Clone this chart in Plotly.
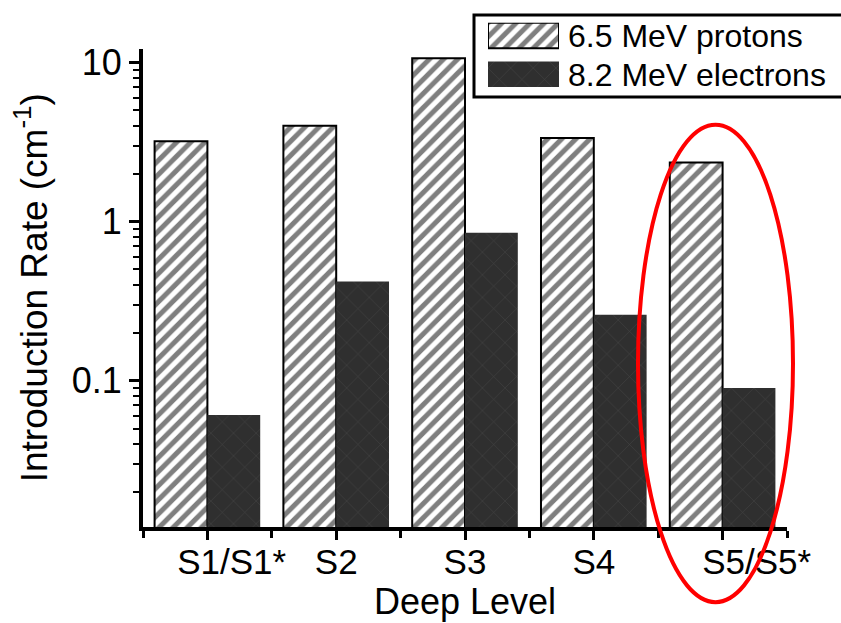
import plotly.graph_objects as go

# ---- data ----
levels = ["S1/S1*", "S2", "S3", "S4", "S5/S5*"]
level_pos = [0, 1, 2, 3, 4]
protons = [3.2, 4.0, 10.6, 3.35, 2.35]
electrons = [0.061, 0.42, 0.85, 0.26, 0.09]
series_names = ["6.5 MeV protons", "8.2 MeV electrons"]
y_tickvals = [0.1, 1, 10]
y_ticktext = ["0.1", "1", "10"]
y_minor = [m * 10 ** e for e in (-2, -1, 0) for m in range(2, 10)]
tick_labels = ["\u00a0\u00a0\u00a0\u00a0\u00a0S1/S1*", "S2", "S3", "S4",
               "\u00a0\u00a0\u00a0\u00a0\u00a0\u00a0\u00a0S5/S5*"]

FONT = "Liberation Sans, Arial, Helvetica, sans-serif"

hatch = dict(shape="/", fgcolor="black", bgcolor="white", size=10, solidity=0.5)
cross = dict(shape="x", fgcolor="#555555", bgcolor="#2f2f2f", size=16, solidity=0.08)

fig = go.Figure()
fig.add_trace(go.Bar(x=level_pos, y=protons, name=series_names[0],
                     marker=dict(color="white", pattern=hatch,
                                 line=dict(color="black", width=2)),
                     showlegend=False))
fig.add_trace(go.Bar(x=level_pos, y=electrons, name=series_names[1],
                     marker=dict(color="#2f2f2f", pattern=cross,
                                 line=dict(color="#2f2f2f", width=0)),
                     showlegend=False))

# legend swatches drawn on a small helper axis
fig.add_trace(go.Bar(y=[1], x=[1], orientation="h", xaxis="x2", yaxis="y2", width=0.66,
                     marker=dict(color="white", pattern=hatch,
                                 line=dict(color="black", width=2)),
                     showlegend=False, hoverinfo="skip"))
fig.add_trace(go.Bar(y=[0], x=[1], orientation="h", xaxis="x2", yaxis="y2", width=0.66,
                     marker=dict(color="#2f2f2f", pattern=cross,
                                 line=dict(color="#2f2f2f", width=0)),
                     showlegend=False, hoverinfo="skip"))

H = 527.0
def py(p):  # pixel y -> paper y
    return (H - p) / H
def px(p):  # pixel x -> paper x
    return (p - 143) / 644.0

fig.update_layout(
    width=841, height=623,
    margin=dict(l=143, r=54, t=0, b=96),
    paper_bgcolor="white", plot_bgcolor="white",
    barmode="group", bargap=0.18, bargroupgap=0,
    font=dict(family=FONT, color="black", size=34),
    showlegend=False,
    xaxis=dict(
        range=[-0.5, 4.5], tickvals=level_pos, ticktext=tick_labels,
        ticks="outside", ticklen=9, tickwidth=3, tickcolor="black",
        minor=dict(tick0=0.5, dtick=1, ticks="outside", ticklen=7, tickwidth=3,
                   tickcolor="black", showgrid=False),
        showline=True, linecolor="black", linewidth=4,
        showgrid=False, zeroline=False,
        tickfont=dict(size=35),
        ticklabelstandoff=-8,
        title=dict(text="Deep Level", font=dict(size=36), standoff=2),
        domain=[0, 1],
    ),
    yaxis=dict(
        type="log", range=[-1.919, 1.087],
        tickvals=y_tickvals, ticktext=y_ticktext,
        ticks="outside", ticklen=10, tickwidth=3, tickcolor="black",
        minor=dict(tickmode="array", tickvals=y_minor, ticks="outside", ticklen=6,
                   tickwidth=2, tickcolor="black", showgrid=False),
        showline=True, linecolor="black", linewidth=4,
        showgrid=False, zeroline=False,
        tickfont=dict(size=36),
        title=dict(text="Introduction Rate (cm<sup>-1</sup>)", font=dict(size=37), standoff=14),
        domain=[0, py(43)],
    ),
    xaxis2=dict(domain=[px(488), px(559)], range=[0, 1], visible=False, anchor="y2"),
    yaxis2=dict(domain=[py(82), py(17)], range=[-0.33, 1.33], visible=False, anchor="x2"),
)

# legend frame
fig.add_shape(type="rect", xref="paper", yref="paper",
              x0=px(474), x1=px(843), y0=py(92), y1=py(9),
              line=dict(color="black", width=3), fillcolor="rgba(0,0,0,0)")
for name, ypix in zip(series_names, [30, 69.5]):
    fig.add_annotation(xref="paper", yref="paper", x=px(566), y=py(ypix),
                       xanchor="left", yanchor="middle", showarrow=False,
                       text=name, font=dict(size=32, family=FONT))

# red ellipse highlight
fig.add_shape(type="circle", xref="paper", yref="paper",
              x0=px(638), x1=px(793), y0=py(603), y1=py(120),
              line=dict(color="#ff0000", width=4))

fig.write_html("out.html")
